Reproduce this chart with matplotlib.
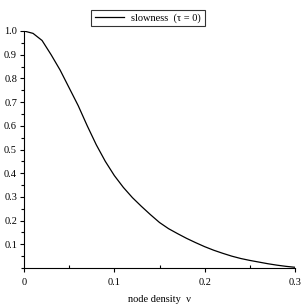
import numpy as np
import matplotlib.pyplot as plt
from matplotlib.ticker import MultipleLocator

plt.rcParams['font.family'] = ['Liberation Serif', 'DejaVu Serif']
plt.rcParams['mathtext.fontset'] = 'stix'

# node density vs slowness (tau = 0)
density = [0.00, 0.01, 0.02, 0.03, 0.04, 0.05, 0.06, 0.07, 0.08, 0.09,
           0.10, 0.11, 0.12, 0.13, 0.14, 0.15, 0.16, 0.17, 0.18, 0.19,
           0.20, 0.21, 0.22, 0.23, 0.24, 0.25, 0.26, 0.27, 0.28, 0.29, 0.30]
slowness = [1.000, 0.990, 0.960, 0.900, 0.835, 0.760, 0.685, 0.600, 0.520, 0.450,
            0.390, 0.340, 0.297, 0.260, 0.225, 0.192, 0.166, 0.145, 0.125, 0.107,
            0.090, 0.075, 0.062, 0.050, 0.040, 0.032, 0.025, 0.018, 0.012, 0.007, 0.003]

fig = plt.figure(figsize=(3.05, 3.05), dpi=100)
ax = fig.add_axes([24/305, 1 - 268/305, 271/305, 237/305])

ax.plot(density, slowness, color='black', lw=0.9, label='slowness  (τ = 0)')

ax.set_xlim(0, 0.3)
ax.set_ylim(0, 1.0)
for s in ['top', 'right']:
    ax.spines[s].set_visible(False)
for s in ['left', 'bottom']:
    ax.spines[s].set_linewidth(0.8)

ax.xaxis.set_minor_locator(MultipleLocator(0.05))
ax.yaxis.set_minor_locator(MultipleLocator(0.05))
ax.set_xticks([0, 0.1, 0.2, 0.3])
ax.set_xticklabels(['0', '0.1', '0.2', '0.3'])
ax.set_yticks([0.1 * i for i in range(1, 11)])
ax.set_yticklabels(['%.1f' % (0.1 * i) for i in range(1, 11)])

ax.tick_params(axis='both', which='major', length=3, width=0.8, labelsize=7.5, pad=2)
ax.tick_params(axis='y', which='minor', length=2, width=0.8)
ax.tick_params(axis='x', which='minor', direction='in', length=2, width=0.8)
ax.tick_params(axis='x', which='major', pad=4)

ax.set_xlabel('node density  ν', fontsize=7.5, labelpad=6)

leg = ax.legend(loc='center', bbox_to_anchor=(148/305, 1 - 18/305),
                bbox_transform=fig.transFigure, fontsize=7.5, frameon=True,
                fancybox=False, edgecolor='black', handlelength=2.8,
                borderpad=0.35, handletextpad=0.7, borderaxespad=0)
leg.get_frame().set_linewidth(0.8)

plt.savefig('out.png', dpi=100)
